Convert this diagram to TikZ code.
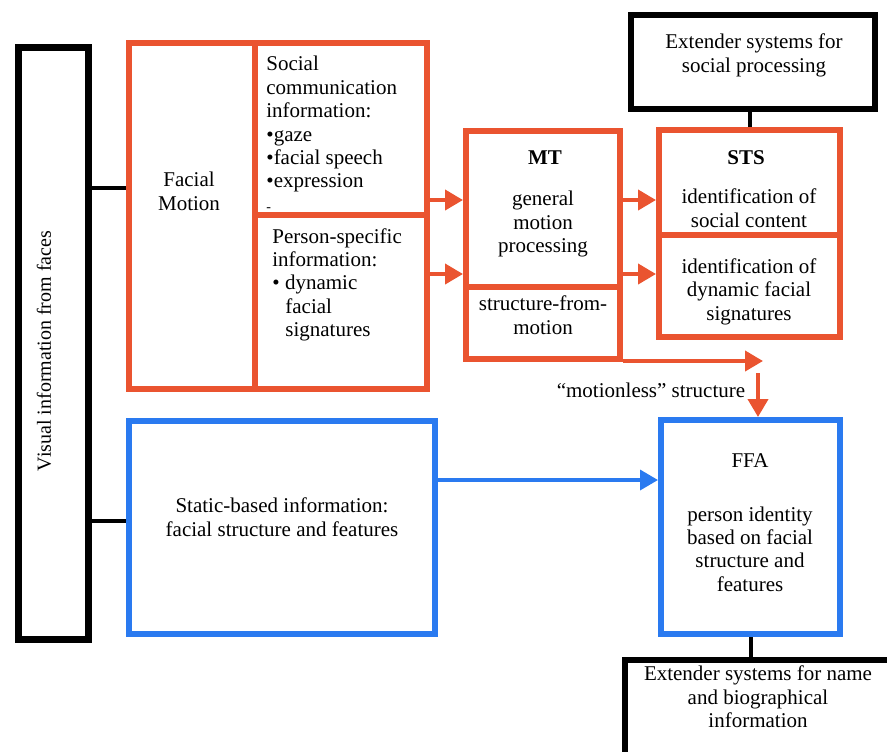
\documentclass[tikz,border=0pt]{standalone}
\usepackage{fontspec}
\setmainfont{Liberation Serif}
\usepackage{xcolor}
\usepackage{tikz}
\usetikzlibrary{
  arrows.meta,
  positioning
}
\definecolor{motionred}{HTML}{EA5430}
\definecolor{staticblue}{HTML}{2A7AF0}

\begin{document}
\begin{tikzpicture}[
  x=0.5pt, y=-0.5pt,
  box/.style={draw, line width=3pt, inner sep=0pt},
  redbox/.style={box, draw=motionred},
  bluebox/.style={box, draw=staticblue},
  blkbox/.style={box, draw=black},
  lbl/.style={font=\fontsize{10.5}{11.7}\selectfont, align=center, inner sep=0pt},
  link/.style={line width=2pt},
  redarrow/.style={color=motionred, line width=2pt, -{Triangle[length=9pt,width=10pt]}},
  bluearrow/.style={color=staticblue, line width=1.75pt, -{Triangle[length=9pt,width=10pt]}},
]
  \useasboundingbox (0,0) rectangle (887,751);
  \clip (0,0) rectangle (887,751);

  % boxes
  \node[blkbox, line width=3.5pt, minimum width=35pt, minimum height=296pt] (vis) at (53.5,343.5) {};
  \node[redbox, minimum width=63pt, minimum height=173pt] (facial) at (192,216) {};
  \node[redbox, minimum width=86pt, minimum height=86pt] (social) at (341,129) {};
  \node[redbox, minimum width=86pt, minimum height=87pt] (person) at (341,302) {};
  \node[redbox, minimum width=77pt, minimum height=114pt] (mt) at (543,245) {};
  \node[redbox, minimum width=77pt, minimum height=36pt] (sfm) at (543,323) {};
  \node[redbox, minimum width=90.5pt, minimum height=103.5pt] (sts) at (749.5,233.5) {};
  \node[redbox, minimum width=90.5pt, minimum height=51pt] (dyn) at (749.5,286) {};
  \node[blkbox, minimum width=122pt, minimum height=47pt] (extsoc) at (753,62) {};
  \node[bluebox, minimum width=153pt, minimum height=106.5pt] (static) at (282,527.5) {};
  \node[bluebox, minimum width=89.5pt, minimum height=107pt] (ffa) at (750.5,527) {};
  \node[blkbox, minimum width=140pt, minimum height=60pt] (extname) at (765,720) {};

  % texts
  \node[lbl, font=\fontsize{10}{12}\selectfont, rotate=90] (vistext) at (44,351)
    {Visual information from faces};
  \node[lbl] (facialtext) at (189,191.5) {Facial\\Motion};
  \node[lbl, align=left, anchor=north west] (socialtext) at (266,56)
    {Social\\communication\\information:\\\textbullet gaze\\\textbullet facial speech\\
     \textbullet expression\\{\scriptsize -}};
  \node[lbl, align=left, anchor=north west] (persontext) at (272,228)
    {Person-specific\\information:\\\textbullet\ dynamic\\\hspace*{6.5pt}facial\\
     \hspace*{6.5pt}signatures};
  \node[lbl, font=\bfseries\fontsize{10.5}{11.7}\selectfont] (mttitle) at (545,157.5) {MT};
  \node[lbl] (mttext) at (543,224) {general\\motion\\processing};
  \node[lbl] (sfmtext) at (543,315) {structure-from-\\motion};
  \node[lbl, font=\bfseries\fontsize{10.5}{11.7}\selectfont] (ststitle) at (746,158) {STS};
  \node[lbl] (ststext) at (749,208) {identification of\\social content};
  \node[lbl] (dyntext) at (749,291.5) {identification of\\dynamic facial\\signatures};
  \node[lbl] (extsoctext) at (754,55.5) {Extender systems for\\social processing};
  \node[lbl] (statictext) at (282,517) {Static-based information:\\facial structure and features};
  \node[lbl] (ffatitle) at (750,461) {FFA};
  \node[lbl] (ffatext) at (750,549) {person identity\\based on facial\\structure and\\features};
  \node[lbl] (extnametext) at (758,697) {Extender systems for name\\and biographical\\information};
  \node[lbl] (mllabel) at (651,390) {``motionless'' structure};

  % connectors
  \draw[link] (vis.east |- 0,188) -- (facial.west |- 0,188);
  \draw[link] (vis.east |- 0,521) -- (static.west |- 0,521);
  \draw[link] (sts.north |- extsoc.south) -- (sts.north);
  \draw[link] (ffa.south) -- (ffa.south |- extname.north);

  \draw[redarrow] (social.east |- 0,200) -- (mt.west |- 0,200);
  \draw[redarrow] (person.east |- 0,274) -- (mt.west |- 0,274);
  \draw[redarrow] (mt.east |- 0,200) -- (sts.west |- 0,200);
  \draw[redarrow] (mt.east |- 0,274) -- (dyn.west |- 0,274);

  \coordinate (mlturn) at (763,361);
  \coordinate (mlstart) at (758,373);
  \draw[redarrow] (mt.south east |- mlturn) -- (mlturn);
  \draw[redarrow] (mlstart) -- (mlstart |- ffa.north);

  \draw[bluearrow] (static.east |- 0,480) -- (ffa.west |- 0,480);
\end{tikzpicture}
\end{document}
